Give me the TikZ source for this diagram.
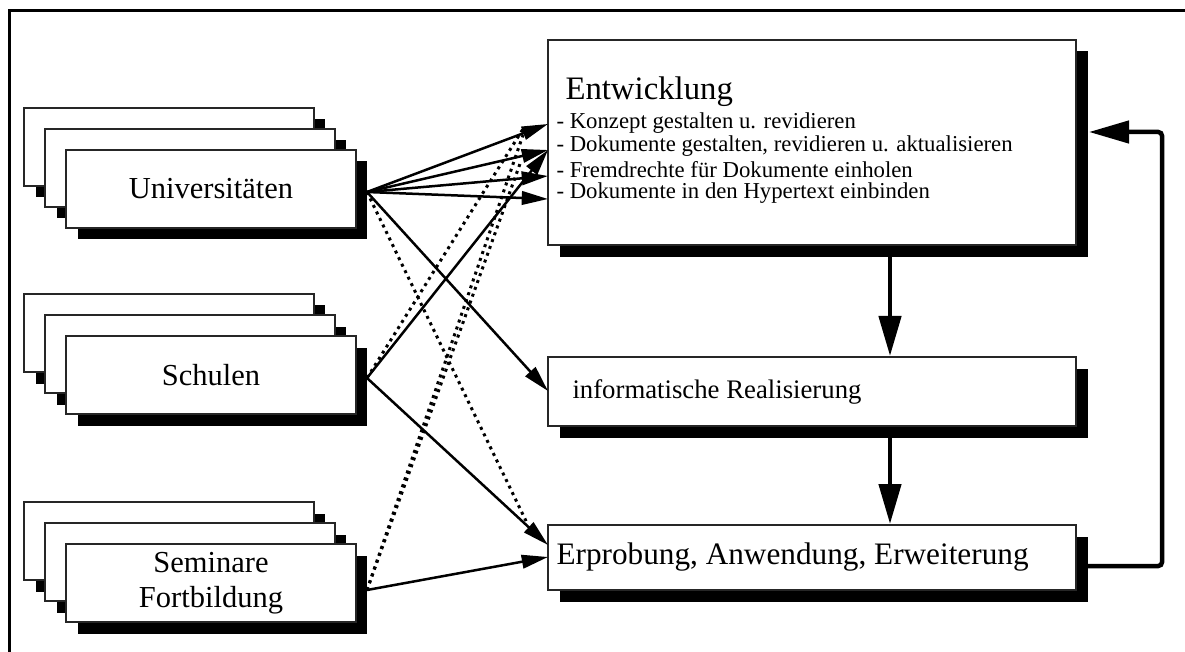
\documentclass[tikz,border=0pt]{standalone}
\usepackage{fontspec}
\setmainfont{Liberation Serif}
\usetikzlibrary{positioning,shadows,arrows.meta}

\tikzset{
  blk/.style={draw=black!85, line width=0.8pt, fill=white, inner sep=0pt,
    drop shadow={shadow xshift=4.6pt, shadow yshift=-4.6pt, fill=black, opacity=1}},
  stackbox/.style={blk, minimum width=115.6pt, minimum height=31.2pt, align=center,
    font=\fontsize{12.2}{14}\selectfont},
  phasebox/.style={blk, minimum width=211.2pt},
  flowarrow/.style={line width=1pt, -{Triangle[length=10.5pt,width=5.4pt]}},
  dotline/.style={line width=1.2pt, dash pattern=on 1.2pt off 1.7pt},
  mainarrow/.style={line width=1.8pt, -{Triangle[length=16pt,width=8.8pt]}},
  listitem/.style={anchor=west, inner sep=0pt, font=\fontsize{9.1}{9.5}\selectfont},
}

\begin{document}
\begin{tikzpicture}[x=0.4pt, y=-0.4pt]
\useasboundingbox (0,0) rectangle (1185,652);
% frame
\draw[line width=1.2pt] (1185,11) -- (9,11) -- (9,652);

% sources, stacked
\node[stackbox] (uni3) at (169,147) {};
\node[stackbox] (uni2) at (190,168) {};
\node[stackbox] (uni1) at (211,189) {Universitäten};

\node[stackbox] (sch3) at (169,333) {};
\node[stackbox] (sch2) at (190,354) {};
\node[stackbox] (sch1) at (211,375) {Schulen};

\node[stackbox] (sem3) at (169,541) {};
\node[stackbox] (sem2) at (190,562) {};
\node[stackbox] (sem1) at (211,583) {Seminare\\Fortbildung};

% phases
\node[phasebox, minimum height=82pt] (entw) at (812,142.5) {};
\node[phasebox, minimum height=27.6pt] (real) at (812,391.5) {};
\node[phasebox, minimum height=26pt] (erpr) at (812,557.5) {};

\node[anchor=west, inner sep=0pt, font=\fontsize{13.1}{15}\selectfont] (entwtitle) at (565,92) {Entwicklung};
\node[listitem] (task1) at (556,123) {- Konzept gestalten u. revidieren};
\node[listitem] (task2) at (556,146) {- Dokumente gestalten, revidieren u. aktualisieren};
\node[listitem] (task3) at (556,170) {- Fremdrechte für Dokumente einholen};
\node[listitem] (task4) at (556,193) {- Dokumente in den Hypertext einbinden};
\node[anchor=west, inner sep=0pt, font=\fontsize{10.7}{13}\selectfont] (realtext) at (572,392) {informatische Realisierung};
\node[anchor=west, inner sep=0pt, font=\fontsize{12.5}{15}\selectfont] (erprtext) at (556,557) {Erprobung, Anwendung, Erweiterung};

\coordinate (uniout) at (367,192);
\coordinate (schout) at (367,378);
\coordinate (semout) at (367,590);
\coordinate (ein1) at (548,124);
\coordinate (ein2) at (548,150);
\coordinate (ein3) at (548,176);
\coordinate (ein4) at (548,199);
\coordinate (rin) at (548,391);
\coordinate (pin1) at (548,545);
\coordinate (pin2) at (548,557);
% dotted ends stop at the arrowhead bases
\coordinate (sdot) at (523,129);
\coordinate (fdot1) at (523,135);
\coordinate (fdot2) at (521,161);
\coordinate (udot) at (527,523);

\draw[dotline] (schout) -- (sdot);
\draw[dotline] (semout) -- (fdot1);
\draw[dotline] (semout) -- (fdot2);
\draw[dotline] (uniout) -- (udot);

\draw[flowarrow] (uniout) -- (ein1);
\draw[flowarrow] (uniout) -- (ein2);
\draw[flowarrow] (uniout) -- (ein3);
\draw[flowarrow] (uniout) -- (ein4);
\draw[flowarrow] (schout) -- (ein2);
\draw[flowarrow] (uniout) -- (rin);
\draw[flowarrow] (schout) -- (pin1);
\draw[flowarrow] (semout) -- (pin2);

\draw[mainarrow] ([xshift=31.2pt]entw.south) -- ([xshift=31.2pt]real.north);
\draw[mainarrow] ([xshift=31.2pt]real.south) -- ([xshift=31.2pt]erpr.north);

% feedback
\coordinate (fbout) at (1088,566);
\coordinate (fbin) at (1089,132);
\draw[mainarrow, rounded corners=1.5pt] (fbout) -- (1162,566) |- (fbin);
\end{tikzpicture}
\end{document}
